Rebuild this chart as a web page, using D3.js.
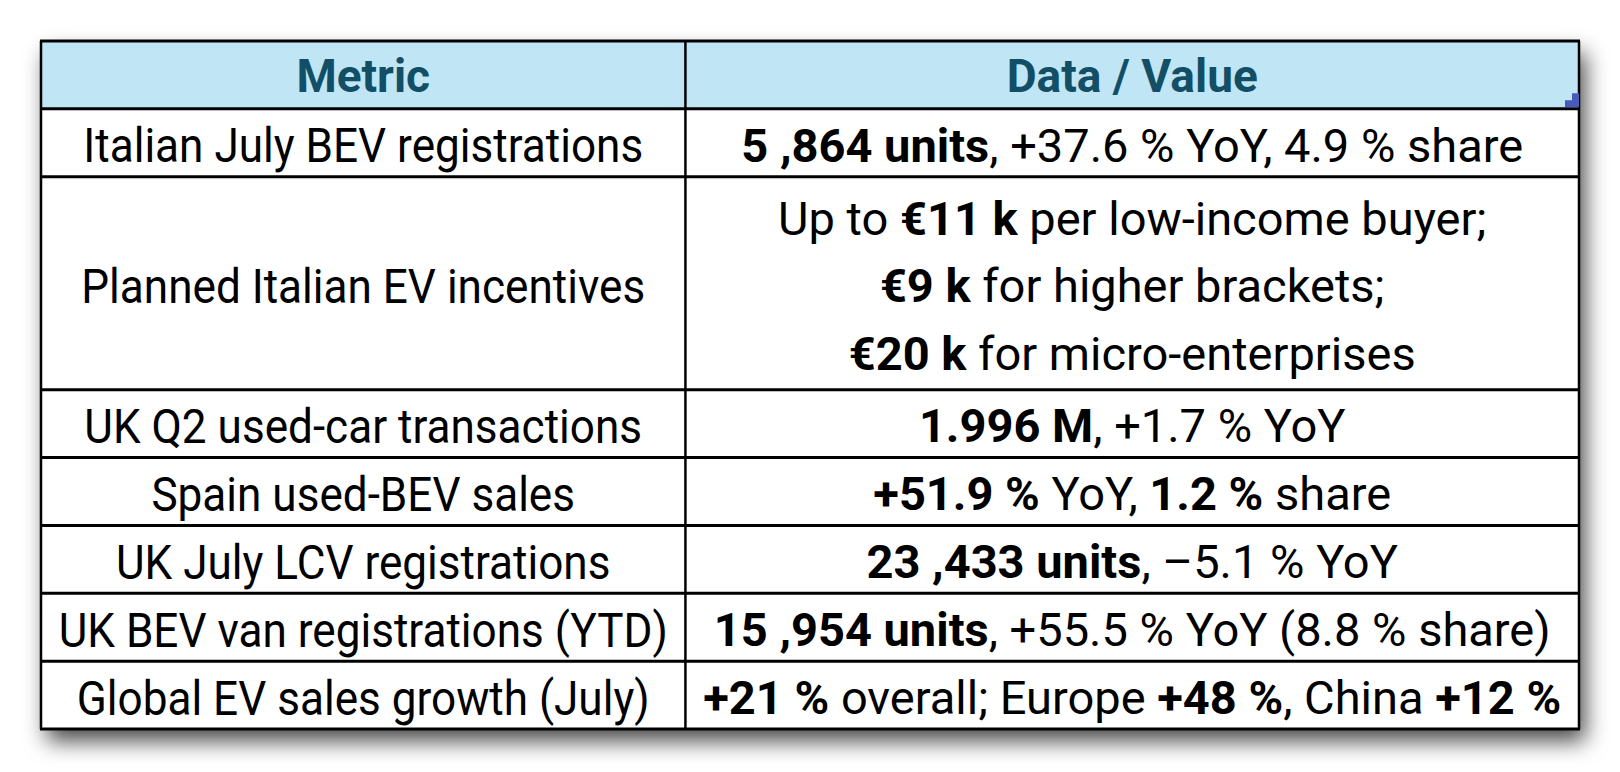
<!DOCTYPE html>
<html>
<head>
<meta charset="utf-8">
<script src="https://cdn.jsdelivr.net/npm/d3@7"></script>
<style>
  body { margin: 0; background: #fff; }
  svg { display: block; }
</style>
</head>
<body>
<div id="chart"></div>
<script>
"use strict";

// table content, ** marks the bold parts
var columns = ["Metric", "Data / Value"];

var metrics = [
    "Italian July BEV registrations",
    "Planned Italian EV incentives",
    "UK Q2 used-car transactions",
    "Spain used-BEV sales",
    "UK July LCV registrations",
    "UK BEV van registrations (YTD)",
    "Global EV sales growth (July)"
];

var values = [
    ["**5 ,864 units**, +37.6 % YoY, 4.9 % share"],
    ["Up to **€11 k** per low-income buyer;",
     "**€9 k** for higher brackets;",
     "**€20 k** for micro-enterprises"],
    ["**1.996 M**, +1.7 % YoY"],
    ["**+51.9 %** YoY, **1.2 %** share"],
    ["**23 ,433 units**, –5.1 % YoY"],
    ["**15 ,954 units**, +55.5 % YoY (8.8 % share)"],
    ["**+21 %** overall; Europe **+48 %**, China **+12 %**"]
];

var W = 1620, H = 772,
    tLeft = 41, tRight = 1579, tTop = 41, tBottom = 729,
    split = 0.419,           // share of width for the first column
    lineGap = 0.07,          // extra height for multi-line rows
    fontFam = "Roboto, 'Open Sans', sans-serif";

var svg = d3.select("#chart").append("svg")
    .attr("width", W)
    .attr("height", H);

var defs = svg.append("defs");
var f = defs.append("filter").attr("id", "shadow")
    .attr("x", "-5%").attr("y", "-10%").attr("width", "110%").attr("height", "130%");
f.append("feDropShadow")
    .attr("dx", 6).attr("dy", 12)
    .attr("stdDeviation", 11)
    .attr("flood-color", "#000")
    .attr("flood-opacity", 0.72);

// row units: header = 1, body rows by number of lines
var units = [1].concat(values.map(function (v) { return v.length + (v.length - 1) * lineGap; }));
var cum = [0];
units.forEach(function (u, i) { cum.push(cum[i] + u); });

var y = d3.scaleLinear().domain([0, cum[cum.length - 1]]).range([tTop, tBottom]);
var x = d3.scaleLinear().domain([0, 1]).range([tLeft, tRight]);

var colX = [x(0), x(split), x(1)];
var colMid = [(colX[0] + colX[1]) / 2, (colX[1] + colX[2]) / 2];

var g = svg.append("g");

g.append("rect")
    .attr("x", tLeft).attr("y", tTop)
    .attr("width", tRight - tLeft).attr("height", tBottom - tTop)
    .attr("fill", "#fff")
    .attr("filter", "url(#shadow)");

g.append("rect")
    .attr("x", tLeft).attr("y", y(cum[0]))
    .attr("width", tRight - tLeft).attr("height", y(cum[1]) - y(cum[0]))
    .attr("fill", "#c0e6f5");

// header
g.selectAll(".head")
    .data(columns)
    .enter().append("text")
    .attr("class", "head")
    .attr("x", function (d, i) { return colMid[i]; })
    .attr("y", (y(cum[0]) + y(cum[1])) / 2)
    .attr("dy", "0.37em")
    .attr("text-anchor", "middle")
    .attr("font-family", fontFam)
    .attr("font-weight", "bold")
    .attr("font-size", "46px")
    .attr("fill", "#124f66")
    .text(function (d) { return d; });

// metric column (narrow face, so squeeze it a little)
g.selectAll(".metric")
    .data(metrics)
    .enter().append("text")
    .attr("class", "metric")
    .attr("transform", function (d, i) {
        return "translate(" + colMid[0] + "," + (y(cum[i + 1]) + y(cum[i + 2])) / 2 + ") scale(0.9,1)";
    })
    .attr("dy", "0.4em")
    .attr("text-anchor", "middle")
    .attr("font-family", fontFam)
    .attr("font-size", "49px")
    .attr("fill", "#000")
    .text(function (d) { return d; });

// value column, with bold runs
function parts(s) {
    return s.split("**").map(function (t, i) { return { t: t, b: i % 2 === 1 }; })
        .filter(function (p) { return p.t.length > 0; });
}

var lineStep = y(1 + lineGap) - y(0);

values.forEach(function (lines, r) {
    var mid = (y(cum[r + 1]) + y(cum[r + 2])) / 2;
    lines.forEach(function (line, k) {
        var ty = mid + (k - (lines.length - 1) / 2) * lineStep * 0.93;
        var t = g.append("text")
            .attr("class", "value")
            .attr("x", colMid[1])
            .attr("y", ty)
            .attr("dy", "0.4em")
            .attr("text-anchor", "middle")
            .attr("font-family", fontFam)
            .attr("font-size", "47px")
            .attr("fill", "#000");
        t.selectAll("tspan")
            .data(parts(line))
            .enter().append("tspan")
            .attr("font-weight", function (p) { return p.b ? "bold" : "normal"; })
            .text(function (p) { return p.t; });
    });
});

// grid lines
g.selectAll(".hline")
    .data(cum)
    .enter().append("line")
    .attr("class", "hline")
    .attr("x1", tLeft - 1).attr("x2", tRight + 1)
    .attr("y1", function (d) { return y(d); })
    .attr("y2", function (d) { return y(d); })
    .attr("stroke", "#000")
    .attr("stroke-width", 3);

g.selectAll(".vline")
    .data(colX)
    .enter().append("line")
    .attr("class", "vline")
    .attr("x1", function (d) { return d; })
    .attr("x2", function (d) { return d; })
    .attr("y1", tTop).attr("y2", tBottom)
    .attr("stroke", "#000")
    .attr("stroke-width", 2.5);

// little resize handle at the header corner
var hb = y(cum[1]);
g.append("path")
    .attr("d", "M" + (tRight - 14) + "," + (hb - 1.5) +
        "v-7h7v-7h7v14z")
    .attr("fill", "#4a5ab8");
</script>
</body>
</html>
